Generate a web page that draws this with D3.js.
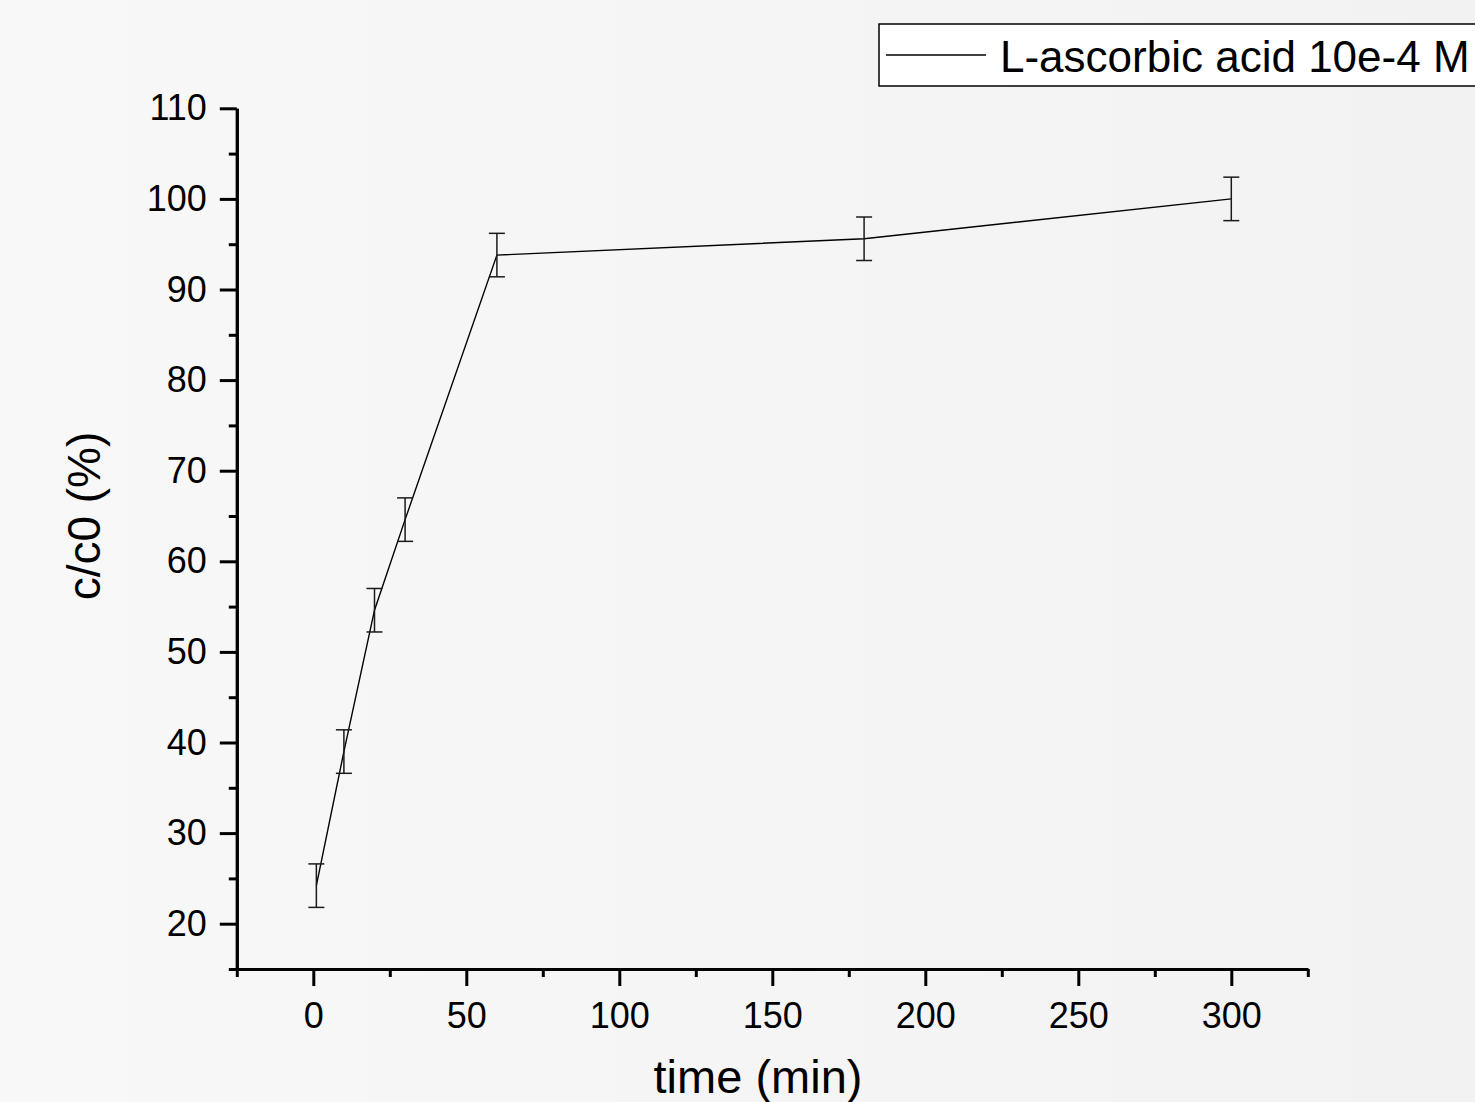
<!DOCTYPE html>
<html>
<head>
<meta charset="utf-8">
<script src="https://cdn.jsdelivr.net/npm/d3@7"></script>
<style>
  html, body { margin: 0; padding: 0; }
  svg { display: block; font-family: "Liberation Sans", Arial, sans-serif; }
</style>
</head>
<body>
<div id="chart"></div>
<script>
// values
var timeMin = [1, 10, 20, 30, 60, 180, 300];
var ratio   = [24.2, 39.0, 54.6, 64.6, 93.8, 95.6, 100.0];
var errs    = [2.4, 2.4, 2.4, 2.4, 2.4, 2.4, 2.4];
var xMajor = [0, 50, 100, 150, 200, 250, 300];
var xMinor = [-25, 25, 75, 125, 175, 225, 275, 325];
var yMajor = [20, 30, 40, 50, 60, 70, 80, 90, 100, 110];
var yMinor = [15, 25, 35, 45, 55, 65, 75, 85, 95, 105];
var seriesName = "L-ascorbic acid 10e-4 M";

var W = 1475, H = 1102;

var data = timeMin.map(function(t, i) { return {t: t, v: ratio[i], e: errs[i]}; });

var x = d3.scaleLinear().domain([-25, 325]).range([236.8, 1307.8]);
var y = d3.scaleLinear().domain([15, 110]).range([969, 108.3]);

var svg = d3.select("#chart").append("svg")
    .attr("width", W)
    .attr("height", H);

var grad = svg.append("defs").append("linearGradient")
    .attr("id", "bg").attr("x1", 0).attr("x2", 1).attr("y1", 0).attr("y2", 0);
grad.append("stop").attr("offset", 0).attr("stop-color", "#f8f8f8");
grad.append("stop").attr("offset", 1).attr("stop-color", "#f2f2f2");

svg.append("rect").attr("width", W).attr("height", H).attr("fill", "url(#bg)");

// axes
function styleAxis(g) {
  g.select(".domain").attr("stroke", "#000").attr("stroke-width", 3);
  g.selectAll(".tick line").attr("stroke", "#000").attr("stroke-width", 3);
  g.selectAll("text").attr("fill", "#000").style("font-size", "36px");
}

var x0 = x.range()[0], y0 = y.range()[0];

svg.append("g")
    .attr("transform", "translate(0," + y0 + ")")
    .call(d3.axisBottom(x).tickValues(xMinor).tickSize(8).tickSizeOuter(0).tickFormat(""))
    .call(styleAxis);
svg.append("g")
    .attr("transform", "translate(0," + y0 + ")")
    .call(d3.axisBottom(x).tickValues(xMajor).tickSize(17).tickSizeOuter(0).tickPadding(16))
    .call(styleAxis);

svg.append("g")
    .attr("transform", "translate(" + x0 + ",0)")
    .call(d3.axisLeft(y).tickValues(yMinor).tickSize(8).tickSizeOuter(0).tickFormat(""))
    .call(styleAxis);
svg.append("g")
    .attr("transform", "translate(" + x0 + ",0)")
    .call(d3.axisLeft(y).tickValues(yMajor).tickSize(17).tickSizeOuter(0).tickPadding(13))
    .call(styleAxis);

// axis titles
svg.append("text")
    .attr("x", 758).attr("y", 1093)
    .attr("text-anchor", "middle")
    .style("font-size", "47px")
    .text("time (min)");

svg.append("text")
    .attr("transform", "translate(100,516) rotate(-90)")
    .attr("text-anchor", "middle")
    .style("font-size", "46px")
    .text("c/c0 (%)");

// line
var line = d3.line().x(function(d) { return x(d.t); }).y(function(d) { return y(d.v); });
svg.append("path")
    .datum(data)
    .attr("d", line)
    .attr("fill", "none")
    .attr("stroke", "#000")
    .attr("stroke-width", 1.4);

// error bars
var eb = svg.selectAll(".err").data(data).enter().append("g").attr("class", "err")
    .attr("stroke", "#1a1a1a").attr("stroke-width", 1.5);
eb.append("line")
    .attr("x1", function(d) { return x(d.t); }).attr("x2", function(d) { return x(d.t); })
    .attr("y1", function(d) { return y(d.v + d.e); }).attr("y2", function(d) { return y(d.v - d.e); });
eb.append("line")
    .attr("x1", function(d) { return x(d.t) - 8; }).attr("x2", function(d) { return x(d.t) + 8; })
    .attr("y1", function(d) { return y(d.v + d.e); }).attr("y2", function(d) { return y(d.v + d.e); });
eb.append("line")
    .attr("x1", function(d) { return x(d.t) - 8; }).attr("x2", function(d) { return x(d.t) + 8; })
    .attr("y1", function(d) { return y(d.v - d.e); }).attr("y2", function(d) { return y(d.v - d.e); });

// legend
var lg = svg.append("g").attr("transform", "translate(879,24)");
lg.append("rect")
    .attr("width", 700).attr("height", 62)
    .attr("fill", "#fff").attr("stroke", "#000").attr("stroke-width", 1.5);
lg.append("line")
    .attr("x1", 7).attr("x2", 107).attr("y1", 31).attr("y2", 31)
    .attr("stroke", "#000").attr("stroke-width", 1.5);
lg.append("text")
    .attr("x", 121).attr("y", 47.5)
    .style("font-size", "44px")
    .text(seriesName);
</script>
</body>
</html>
